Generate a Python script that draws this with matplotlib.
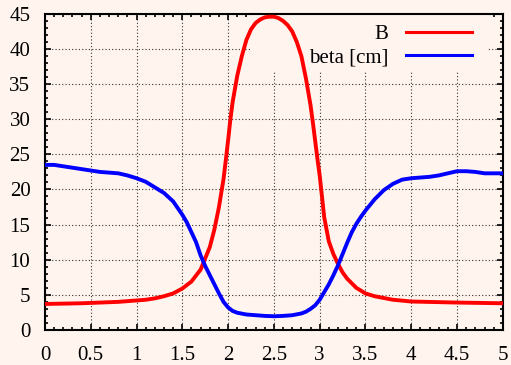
import matplotlib
matplotlib.use("Agg")
import matplotlib.pyplot as plt
from matplotlib.patches import Rectangle
from matplotlib.ticker import MultipleLocator

# values
x_b = [0, 0.2, 0.4, 0.6, 0.8, 1.0, 1.1, 1.2, 1.3, 1.4, 1.5, 1.6, 1.7, 1.8,
       1.85, 1.9, 1.95, 1.975, 2.0, 2.025, 2.05, 2.1, 2.15, 2.2, 2.25, 2.3, 2.35, 2.4,
       2.45, 2.5, 2.55, 2.6, 2.65, 2.7, 2.75, 2.8, 2.85, 2.9, 2.925, 2.95, 2.975, 3.0,
       3.025, 3.05, 3.1, 3.15, 3.2, 3.25, 3.3, 3.4, 3.5, 3.6, 3.8, 4.0, 4.5, 5.0]
b_vals = [3.7, 3.75, 3.8, 3.9, 4.0, 4.2, 4.3, 4.5, 4.8, 5.2, 5.9, 6.9, 8.6, 11.8,
          14.3, 17.5, 21.5, 24.2, 27.0, 30.0, 32.5, 36.2, 39.0, 41.3, 42.8, 43.7, 44.2, 44.5,
          44.6, 44.6, 44.4, 44.0, 43.4, 42.5, 41.0, 39.0, 35.8, 32.0, 29.6, 27.0, 24.4, 22.0,
          19.0, 16.0, 12.6, 10.8, 9.4, 8.2, 7.3, 6.0, 5.2, 4.8, 4.3, 4.05, 3.9, 3.8]

x_beta = [0, 0.1, 0.2, 0.3, 0.4, 0.5, 0.6, 0.7, 0.8, 0.9, 1.0, 1.1, 1.2, 1.3,
          1.4, 1.5, 1.55, 1.6, 1.65, 1.7, 1.75, 1.8, 1.85, 1.9, 1.95, 2.0,
          2.05, 2.1, 2.2, 2.3, 2.4, 2.5, 2.6, 2.7, 2.8, 2.85, 2.9, 2.95, 3.0,
          3.05, 3.1, 3.15, 3.2, 3.25, 3.3, 3.35, 3.4, 3.45, 3.5, 3.6, 3.7,
          3.8, 3.9, 4.0, 4.1, 4.2, 4.3, 4.4, 4.5, 4.6, 4.7, 4.8, 4.9, 5.0]
beta_vals = [23.5, 23.5, 23.3, 23.1, 22.9, 22.7, 22.5, 22.4, 22.3, 22.0, 21.6, 21.1, 20.3, 19.5,
             18.3, 16.4, 15.3, 13.9, 12.5, 10.6, 9.1, 7.8, 6.5, 5.2, 4.0, 3.2,
             2.7, 2.45, 2.2, 2.1, 2.0, 1.95, 2.0, 2.1, 2.35, 2.6, 3.0, 3.5, 4.3,
             5.4, 6.5, 7.8, 9.2, 10.8, 12.4, 13.9, 15.1, 16.1, 17.0, 18.6, 19.9,
             20.8, 21.4, 21.6, 21.7, 21.8, 22.0, 22.3, 22.6, 22.6, 22.5, 22.3, 22.3, 22.3]

x_ticks = [0, 0.5, 1, 1.5, 2, 2.5, 3, 3.5, 4, 4.5, 5]
x_ticklabels = ["0", "0.5", "1", "1.5", "2", "2.5", "3", "3.5", "4", "4.5", "5"]

bg = "#fff5ee"
plt.rcParams["font.family"] = "Liberation Serif"
plt.rcParams["font.size"] = 15

fig = plt.figure(figsize=(5.11, 3.65), dpi=100, facecolor=bg)
ax = fig.add_axes([0.088, 0.096, 0.896, 0.866])
ax.set_facecolor(bg)

ax.plot(x_b, b_vals, color="#ff0000", lw=2.8, label="B", zorder=3)
ax.plot(x_beta, beta_vals, color="#0000ff", lw=2.8, label="beta [cm]", zorder=3)

ax.set_xlim(0, 5)
ax.set_ylim(0, 45)
ax.xaxis.set_minor_locator(MultipleLocator(0.1))
ax.yaxis.set_major_locator(MultipleLocator(5))
ax.yaxis.set_minor_locator(MultipleLocator(1))
ax.set_xticks(x_ticks)
ax.set_xticklabels(x_ticklabels)

ax.tick_params(which="both", direction="in", top=True, right=True, width=1.2)
ax.tick_params(which="major", length=4.5)
ax.tick_params(which="minor", length=2.2)
ax.tick_params(axis="x", pad=11.5)
ax.tick_params(axis="y", pad=10.5)
for s in ax.spines.values():
    s.set_linewidth(1.5)

ax.set_axisbelow(True)
ax.grid(True, which="major", color="#333333", lw=0.8, linestyle=(0, (1, 2)))

# key box hides the grid behind it
ax.add_patch(Rectangle((0.45, 0.817), 0.515, 0.2, transform=ax.transAxes,
                       facecolor=bg, edgecolor="none", zorder=1.5))

leg = ax.legend(loc="upper right", bbox_to_anchor=(0.932, 0.967), frameon=False,
                markerfirst=False, handlelength=3.17, handletextpad=0.85,
                borderaxespad=0, borderpad=0, labelspacing=0.2)
for line in leg.get_lines():
    line.set_linewidth(2.2)

fig.savefig("out.png", dpi=100, facecolor=bg)
